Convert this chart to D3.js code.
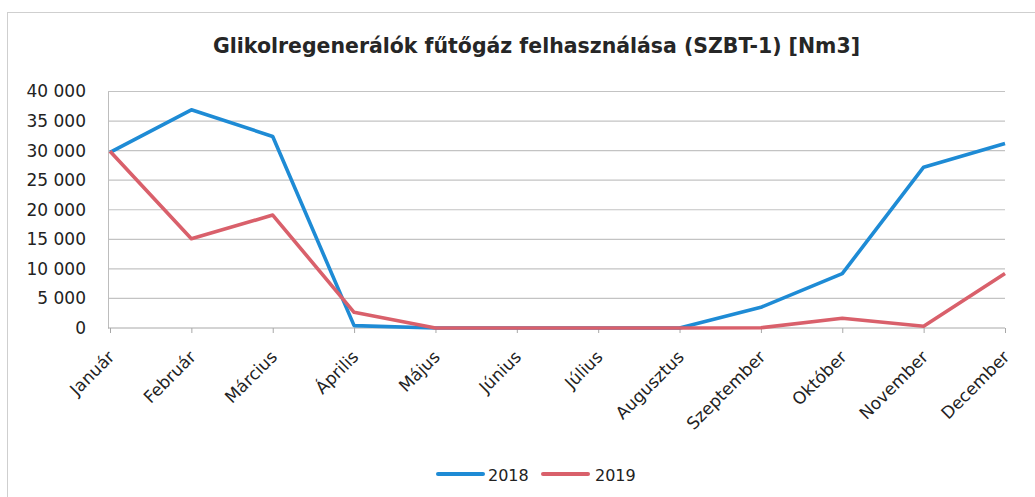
<!DOCTYPE html>
<html><head><meta charset="utf-8">
<script src="https://cdn.jsdelivr.net/npm/d3@7"></script>
<style>body{margin:0;background:#fff}svg{display:block}</style>
</head><body>
<svg id="c" width="1035" height="497"></svg>
<script>
const months = ["Január","Február","Március","Április","Május","Június","Július","Augusztus","Szeptember","Október","November","December"];
const s2018 = [29700,36900,32400,400,0,0,0,0,3500,9200,27200,31200];
const s2019 = [29900,15100,19100,2650,0,0,0,0,50,1650,300,9200];
const yTicks = [0,5000,10000,15000,20000,25000,30000,35000,40000];
const seriesNames = ["2018","2019"];
const colors = ["#1e8bd5","#d9606b"];

const svg = d3.select("#c");
const font = "DejaVu Sans, Verdana, sans-serif";
svg.append("rect").attr("x",7.5).attr("y",12.5).attr("width",1040).attr("height",500)
  .attr("fill","#fff").attr("stroke","#cfcfcf");

const x = d3.scalePoint().domain(months).range([110,1005]);
const y = d3.scaleLinear().domain([0,40000]).range([328,91.5]);

svg.append("text").attr("x",536.5).attr("y",53).attr("text-anchor","middle")
  .attr("font-family",font).attr("font-weight","bold").attr("font-size",20.5).attr("fill","#262626")
  .attr("textLength",647).attr("lengthAdjust","spacingAndGlyphs")
  .text("Glikolregenerálók fűtőgáz felhasználása (SZBT-1) [Nm3]");

// grid
svg.append("g").selectAll("line").data(yTicks.filter(d=>d>0)).join("line")
  .attr("x1",108).attr("x2",1005).attr("y1",d=>y(d)).attr("y2",d=>y(d))
  .attr("stroke","#c3c3c3").attr("stroke-width",1.2);

const yAxis = svg.append("g").attr("transform","translate(108,0)")
  .call(d3.axisLeft(y).tickValues(yTicks).tickSize(0).tickPadding(22)
    .tickFormat(d=>d3.format(",")(d).replace(/,/g," ")));
yAxis.select(".domain").attr("stroke","#bdbdbd");
yAxis.selectAll("text").attr("font-family",font).attr("font-size",17).attr("fill","#222");

const xAxis = svg.append("g").attr("transform","translate(0,328)")
  .call(d3.axisBottom(x).tickSize(5).tickPadding(8));
xAxis.select(".domain").attr("stroke","#a8a8a8").attr("d","M108,0H1005");
xAxis.selectAll(".tick line").attr("stroke","#a8a8a8");
xAxis.selectAll("text").attr("font-family",font).attr("font-size",17).attr("fill","#222")
  .attr("text-anchor","end").attr("x",0).attr("y",0).attr("dy",0)
  .attr("transform","translate(5,30) rotate(-45)");

const line = d3.line().x((d,i)=>x(months[i])).y(d=>y(d));
[s2018,s2019].forEach((s,k)=>{
  svg.append("path").datum(s).attr("d",line).attr("fill","none")
    .attr("stroke",colors[k]).attr("stroke-width",3.6).attr("stroke-linejoin","round");
});

// legend
const lg = svg.append("g").attr("font-family",font).attr("font-size",16).attr("fill","#222");
[[438,488],[543,595]].forEach((p,k)=>{
  lg.append("line").attr("x1",p[0]).attr("x2",p[0]+45).attr("y1",474).attr("y2",474)
    .attr("stroke",colors[k]).attr("stroke-width",4).attr("stroke-linecap","round");
  lg.append("text").attr("x",p[1]).attr("y",481).text(seriesNames[k]);
});
</script>
</body></html>
